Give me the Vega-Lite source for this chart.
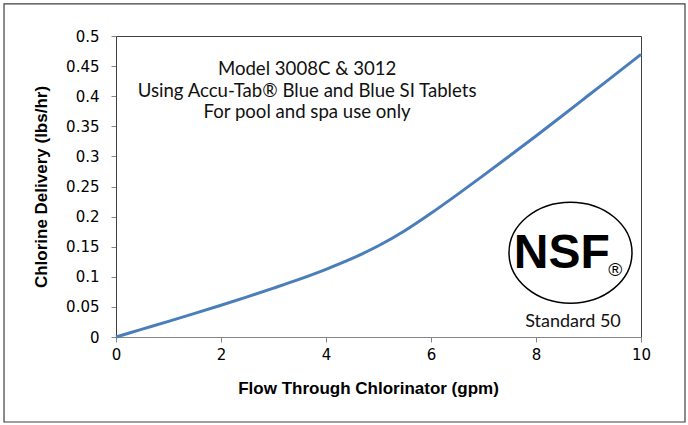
{
  "$schema": "https://vega.github.io/schema/vega-lite/v6.json",
  "width": 525,
  "height": 301,
  "autosize": {"type": "none"},
  "padding": {"left": 116, "top": 36, "right": 47, "bottom": 88},
  "background": "white",
  "config": {
    "view": {"stroke": "#404040", "strokeWidth": 1},
    "font": "Liberation Sans"
  },
  "resolve": {"axis": {"x": "independent", "y": "independent"}},
  "layer": [
    {
      "data": {"values": [
        {"flow": 0, "chlorine": 0},
        {"flow": 0.5, "chlorine": 0.013},
        {"flow": 1, "chlorine": 0.026},
        {"flow": 1.5, "chlorine": 0.0392},
        {"flow": 2, "chlorine": 0.0527},
        {"flow": 2.5, "chlorine": 0.0667},
        {"flow": 3, "chlorine": 0.0812},
        {"flow": 3.5, "chlorine": 0.0962},
        {"flow": 4, "chlorine": 0.1125},
        {"flow": 4.5, "chlorine": 0.1305},
        {"flow": 5, "chlorine": 0.1515},
        {"flow": 5.5, "chlorine": 0.1765},
        {"flow": 6, "chlorine": 0.2055},
        {"flow": 6.5, "chlorine": 0.2365},
        {"flow": 7, "chlorine": 0.2685},
        {"flow": 7.5, "chlorine": 0.301},
        {"flow": 8, "chlorine": 0.334},
        {"flow": 8.5, "chlorine": 0.3675},
        {"flow": 9, "chlorine": 0.4015},
        {"flow": 9.5, "chlorine": 0.4355},
        {"flow": 10, "chlorine": 0.4695}
      ]},
      "mark": {"type": "line", "color": "#4a7ebb", "strokeWidth": 3, "interpolate": "monotone"},
      "encoding": {
        "x": {
          "field": "flow", "type": "quantitative",
          "scale": {"domain": [0, 10], "nice": false, "zero": false},
          "axis": {
            "title": "Flow Through Chlorinator (gpm)",
            "values": [0, 2, 4, 6, 8, 10],
            "grid": false,
            "domainColor": "#868686", "tickColor": "#868686", "tickSize": 5,
            "labelFont": "DejaVu Sans", "labelFontSize": 15, "labelColor": "#000", "labelPadding": 5,
            "labelFlush": false, "labelOverlap": false,
            "titleFont": "Liberation Sans", "titleFontSize": 17, "titleFontWeight": "bold", "titleColor": "#000",
            "titlePadding": 18, "titleX": 252
          }
        },
        "y": {
          "field": "chlorine", "type": "quantitative",
          "scale": {"domain": [0, 0.5], "nice": false},
          "axis": {
            "title": "Chlorine Delivery (lbs/hr)",
            "values": [0, 0.05, 0.1, 0.15, 0.2, 0.25, 0.3, 0.35, 0.4, 0.45, 0.5],
            "format": "~g",
            "grid": false,
            "domainColor": "#404040", "tickColor": "#868686", "tickSize": 5,
            "labelFont": "DejaVu Sans", "labelFontSize": 15, "labelColor": "#000", "labelPadding": 12,
            "labelFlush": false, "labelOverlap": false,
            "titleFont": "Liberation Sans", "titleFontSize": 17, "titleFontWeight": "bold", "titleColor": "#000",
            "titlePadding": 15
          }
        }
      }
    },
    {
      "data": {"values": [{}]},
      "mark": {"type": "rect", "fill": null, "stroke": "#404040", "strokeWidth": 1.2},
      "encoding": {
        "x": {"datum": -2.133, "type": "quantitative", "axis": null},
        "x2": {"datum": 10.838},
        "y": {"datum": -0.1412, "type": "quantitative", "axis": null},
        "y2": {"datum": 0.5532}
      }
    },
    {
      "data": {"values": [{}]},
      "mark": {"type": "text", "font": "Lato", "fontSize": 18.6, "color": "#111", "align": "center", "baseline": "alphabetic", "lineHeight": 21.7},
      "encoding": {
        "x": {"datum": 3.64, "type": "quantitative", "axis": null},
        "y": {"datum": 0.4352, "type": "quantitative", "axis": null},
        "text": {"value": ["Model 3008C & 3012", "Using Accu-Tab® Blue and Blue SI Tablets", "For pool and spa use only"]}
      }
    },
    {
      "data": {"values": [{}]},
      "mark": {"type": "point", "shape": "M-1,0A1,0.821,0,1,0,1,0A1,0.821,0,1,0,-1,0Z", "size": 15129, "filled": false, "stroke": "#000", "strokeWidth": 1.5, "opacity": 1},
      "encoding": {
        "x": {"datum": 8.657, "type": "quantitative", "axis": null},
        "y": {"datum": 0.14, "type": "quantitative", "axis": null}
      }
    },
    {
      "data": {"values": [{}]},
      "mark": {"type": "text", "font": "Liberation Sans", "fontSize": 48, "fontWeight": "bold", "color": "#000", "align": "center", "baseline": "alphabetic"},
      "encoding": {
        "x": {"datum": 8.49, "type": "quantitative", "axis": null},
        "y": {"datum": 0.1146, "type": "quantitative", "axis": null},
        "text": {"value": "NSF"}
      }
    },
    {
      "data": {"values": [{}]},
      "mark": {"type": "text", "font": "Liberation Sans", "fontSize": 19, "color": "#000", "align": "center", "baseline": "middle"},
      "encoding": {
        "x": {"datum": 9.51, "type": "quantitative", "axis": null},
        "y": {"datum": 0.111, "type": "quantitative", "axis": null},
        "text": {"value": "®"}
      }
    },
    {
      "data": {"values": [{}]},
      "mark": {"type": "text", "font": "Lato", "fontSize": 18, "color": "#111", "align": "center", "baseline": "alphabetic"},
      "encoding": {
        "x": {"datum": 8.705, "type": "quantitative", "axis": null},
        "y": {"datum": 0.0166, "type": "quantitative", "axis": null},
        "text": {"value": "Standard 50"}
      }
    }
  ]
}
